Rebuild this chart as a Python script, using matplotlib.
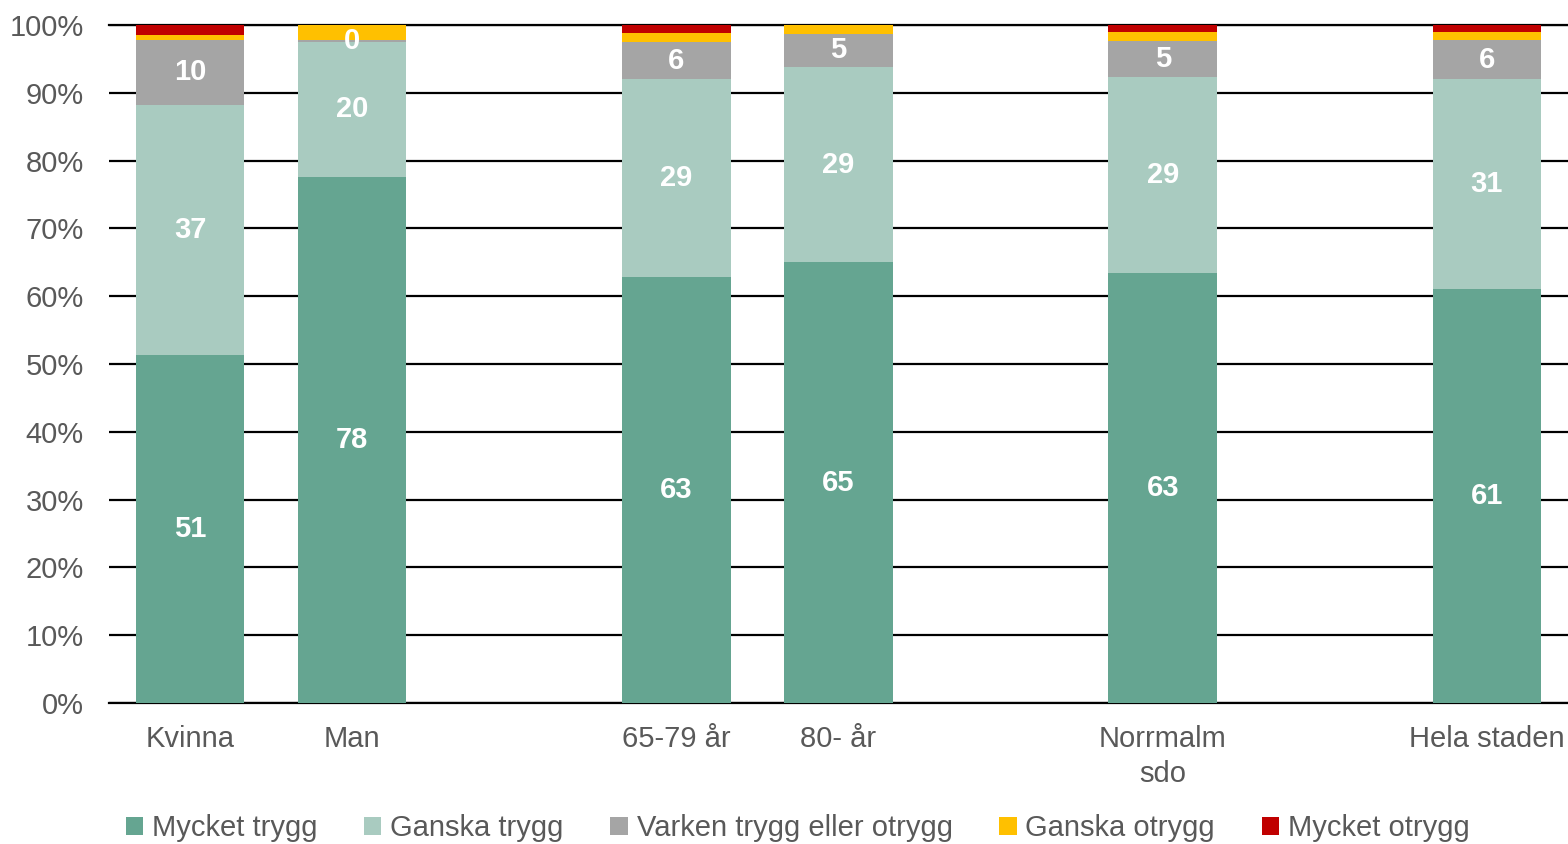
import matplotlib
matplotlib.use("Agg")
import matplotlib.pyplot as plt
import numpy as np

plt.rcParams['font.family'] = ['Liberation Sans', 'DejaVu Sans']

# categories and their slot positions (gaps between groups)
categories = ["Kvinna", "Man", "65-79 år", "80- år", "Norrmalm\nsdo", "Hela staden"]
slots = [0, 1, 3, 4, 6, 8]

series_names = ["Mycket trygg", "Ganska trygg", "Varken trygg eller otrygg",
                "Ganska otrygg", "Mycket otrygg"]
mycket_trygg = [51.3, 77.6, 62.8, 65.0, 63.4, 61.1]
ganska_trygg = [36.9, 19.9, 29.2, 28.8, 28.9, 30.9]
varken = [9.6, 0.3, 5.5, 4.9, 5.4, 5.8]
ganska_otrygg = [0.7, 2.2, 1.3, 1.3, 1.3, 1.2]
mycket_otrygg = [1.5, 0.0, 1.2, 0.0, 1.0, 1.0]

colors = ["#65A591", "#A9CBC0", "#A5A5A5", "#FFC000", "#C00000"]
data = [mycket_trygg, ganska_trygg, varken, ganska_otrygg, mycket_otrygg]

fig = plt.figure(figsize=(15.68, 8.44), dpi=100)
ax = fig.add_axes([109/1568, 1 - 703/844, (1568-109)/1568, (703-25)/844])

x = np.array(slots)
bottom = np.zeros(len(x))
for i, (vals, col, name) in enumerate(zip(data, colors, series_names)):
    vals = np.array(vals)
    ax.bar(x, vals, 0.67, bottom=bottom, color=col, label=name, zorder=3)
    if i < 3:
        for xi, b, v in zip(x, bottom, vals):
            ax.text(xi, b + v / 2, f"{v:.0f}", ha='center', va='center',
                    color='white', fontsize=21, fontweight='bold', zorder=4)
    bottom += vals

ax.set_xlim(-0.5, 8.5)
ax.set_ylim(0, 100)
ax.set_yticks(np.arange(0, 101, 10))
ax.set_yticklabels([f"{v}%" for v in range(0, 101, 10)])
ax.yaxis.grid(True, color='black', linewidth=1.6, zorder=0)
ax.set_axisbelow(True)
for s in ['left', 'right']:
    ax.spines[s].set_visible(False)
ax.spines['bottom'].set_linewidth(1.6)
ax.spines['top'].set_linewidth(1.6)  # 100% line
ax.tick_params(axis='both', length=0, labelsize=21, labelcolor='#595959')
ax.tick_params(axis='y', pad=18)
ax.tick_params(axis='x', pad=16)
ax.set_xticks(x)
ax.set_xticklabels(categories, linespacing=1.3)

ax.legend(loc='center', bbox_to_anchor=(0.472, -0.185), ncol=5, frameon=False,
          fontsize=21, handlelength=0.6, handleheight=0.6, handletextpad=0.3,
          columnspacing=1.6, labelcolor='#595959')

fig.savefig("out.png", dpi=100)
